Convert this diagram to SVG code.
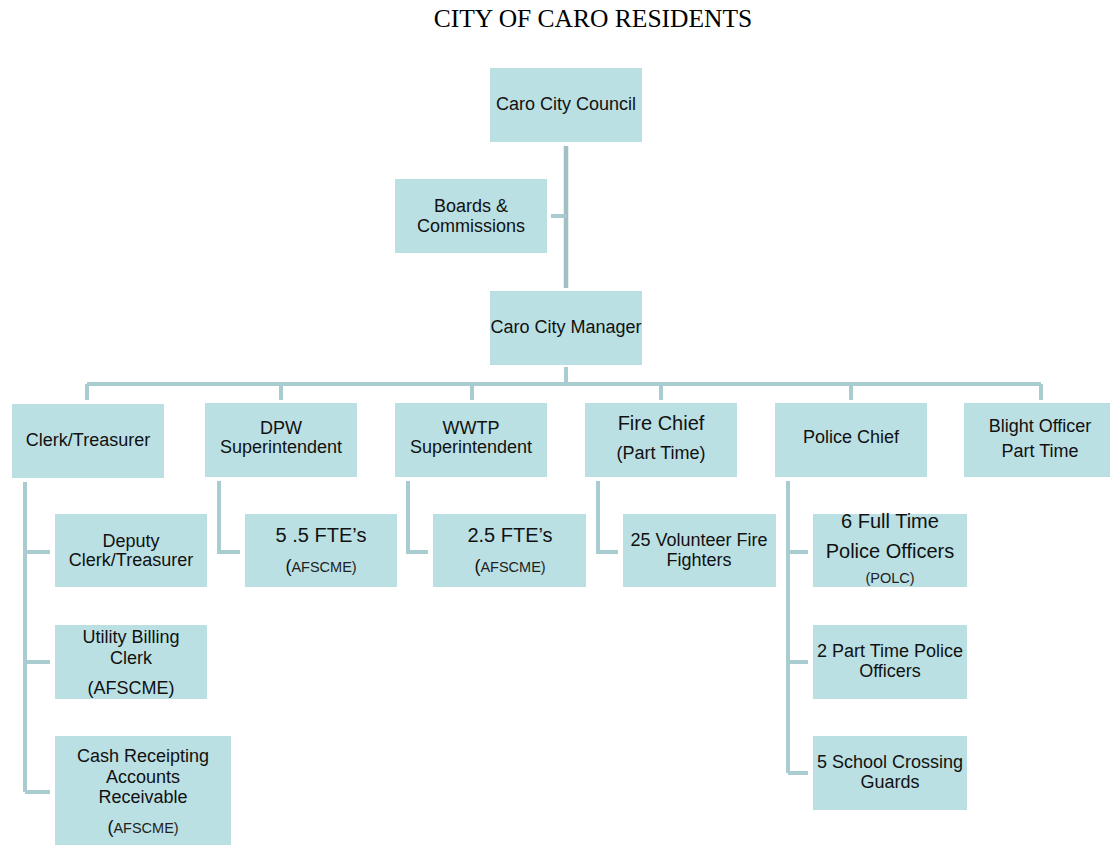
<svg xmlns="http://www.w3.org/2000/svg" width="1110" height="845" viewBox="0 0 1110 845">
<style>
.box{fill:#BBE0E3}
.ln{fill:none;stroke:#A8CCD0;stroke-width:4}
text{font-family:"Liberation Sans",Arial,sans-serif;font-size:18px;fill:#111;text-anchor:middle}
.big{font-size:20px}
.sm{font-size:14.5px;fill:#222}
.title{font-family:"Liberation Serif","Times New Roman",serif;font-size:25.5px;fill:#000}
</style>
<rect width="1110" height="845" fill="#fff"/>
<text class="title" x="593" y="27">CITY OF CARO RESIDENTS</text>
<g id="connectors">
<path class="ln" d="M566 146V288" style="stroke:#9FC1C5;stroke-width:4.5"/>
<path class="ln" d="M551 216H566"/>
<path class="ln" d="M566 367V384M87 384H1041M87 384V400M281 384V400M472 384V400M661 384V400M851 384V400M1041 384V400"/>
<path class="ln" d="M25 482V792M25 552H50M25 662H50M25 792H50"/>
<path class="ln" d="M219 481V552H240"/>
<path class="ln" d="M408 481V552H428"/>
<path class="ln" d="M598 481V552H618"/>
<path class="ln" d="M788 481V773M788 552H808M788 662H808M788 773H808"/>
</g>
<g id="council"><rect class="box" x="490" y="68" width="152" height="74"/><text x="566" y="110">Caro City Council</text></g>
<g id="boards"><rect class="box" x="395" y="179" width="152" height="74"/><text x="471" y="212">Boards &amp;</text><text x="471" y="232">Commissions</text></g>
<g id="manager"><rect class="box" x="490" y="291" width="152" height="74"/><text x="566" y="333">Caro City Manager</text></g>
<g id="clerk"><rect class="box" x="12" y="404" width="152" height="74"/><text x="88" y="446">Clerk/Treasurer</text></g>
<g id="dpw"><rect class="box" x="205" y="403" width="152" height="74"/><text x="281" y="434">DPW</text><text x="281" y="453">Superintendent</text></g>
<g id="wwtp"><rect class="box" x="395" y="403" width="152" height="74"/><text x="471" y="434">WWTP</text><text x="471" y="453">Superintendent</text></g>
<g id="fire"><rect class="box" x="585" y="403" width="152" height="74"/><text class="big" x="661" y="430">Fire Chief</text><text x="661" y="459">(Part Time)</text></g>
<g id="police"><rect class="box" x="775" y="403" width="152" height="74"/><text x="851" y="443">Police Chief</text></g>
<g id="blight"><rect class="box" x="964" y="403" width="146" height="74"/><text x="1040" y="432">Blight Officer</text><text x="1040" y="457">Part Time</text></g>
<g id="deputy"><rect class="box" x="55" y="514" width="152" height="73"/><text x="131" y="547">Deputy</text><text x="131" y="566">Clerk/Treasurer</text></g>
<g id="utility"><rect class="box" x="55" y="625" width="152" height="74"/><text x="131" y="643">Utility Billing</text><text x="131" y="664">Clerk</text><text x="131" y="694">(AFSCME)</text></g>
<g id="cash"><rect class="box" x="55" y="736" width="176" height="109"/><text x="143" y="762">Cash Receipting</text><text x="143" y="783">Accounts</text><text x="143" y="803">Receivable</text><text x="143" y="833"><tspan style="font-size:18px">(</tspan><tspan class="sm">AFSCME)</tspan></text></g>
<g id="dpw-fte"><rect class="box" x="245" y="514" width="152" height="73"/><text class="big" x="321" y="542">5 .5 FTE’s</text><text x="321" y="572"><tspan style="font-size:18px">(</tspan><tspan class="sm">AFSCME)</tspan></text></g>
<g id="wwtp-fte"><rect class="box" x="433" y="514" width="153" height="73"/><text class="big" x="510" y="542">2.5 FTE’s</text><text x="510" y="572"><tspan style="font-size:18px">(</tspan><tspan class="sm">AFSCME)</tspan></text></g>
<g id="firefighters"><rect class="box" x="623" y="514" width="153" height="73"/><text x="699" y="546">25 Volunteer Fire</text><text x="699" y="566">Fighters</text></g>
<g id="fulltime"><rect class="box" x="813" y="514" width="154" height="73"/><text class="big" x="890" y="528">6 Full Time</text><text class="big" x="890" y="558">Police Officers</text><text class="sm" x="890" y="583">(POLC)</text></g>
<g id="parttime"><rect class="box" x="813" y="625" width="154" height="74"/><text x="890" y="657">2 Part Time Police</text><text x="890" y="677">Officers</text></g>
<g id="crossing"><rect class="box" x="813" y="736" width="154" height="74"/><text x="890" y="768">5 School Crossing</text><text x="890" y="788">Guards</text></g>
</svg>
